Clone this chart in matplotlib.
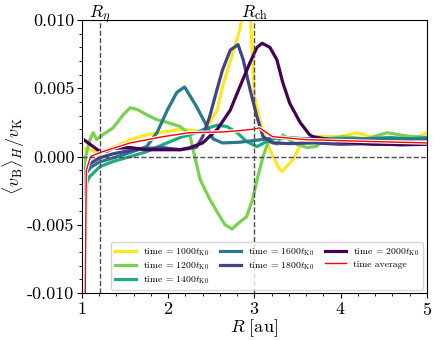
import numpy as np
import matplotlib
matplotlib.use("Agg")
import matplotlib.pyplot as plt
import matplotlib.patheffects as pe
from matplotlib.transforms import blended_transform_factory, offset_copy
from matplotlib.ticker import MultipleLocator, FormatStrFormatter

plt.rcParams['font.family'] = 'serif'
plt.rcParams['font.serif'] = ['cmr10']
plt.rcParams['mathtext.fontset'] = 'cm'
plt.rcParams['axes.formatter.use_mathtext'] = True

# values in units of 1e-3
R_1000 = [1.00, 1.03, 1.21, 1.36, 1.56, 1.75, 1.94, 2.14, 2.25, 2.40, 2.48, 2.57, 2.63, 2.75, 2.83, 2.87, 2.95, 3.00, 3.08, 3.18, 3.28, 3.32, 3.45, 3.56, 3.72, 3.99, 4.19, 4.37, 4.57, 4.84, 5.00]
v_1000 = [0.3, 0.6, 0.3, 0.66, 1.24, 1.6, 1.8, 2.0, 1.95, 1.82, 2.48, 3.43, 5.1, 7.6, 9.3, 10.8, 10.8, 4.4, 2.2, 0.5, -0.8, -1.1, -0.2, 1.2, 1.46, 1.46, 1.75, 1.4, 1.1, 1.25, 1.75]

R_1200 = [1.02, 1.05, 1.09, 1.13, 1.17, 1.24, 1.36, 1.48, 1.56, 1.64, 1.75, 1.87, 1.99, 2.14, 2.25, 2.30, 2.37, 2.48, 2.60, 2.66, 2.74, 2.83, 2.91, 2.98, 3.04, 3.10, 3.14, 3.18, 3.26, 3.33, 3.45, 3.61, 3.72, 3.80, 4.02, 4.30, 4.54, 4.77, 5.00]
v_1200 = [-1.0, 0.2, 1.2, 1.75, 1.24, 1.6, 2.1, 3.07, 3.58, 3.45, 3.07, 2.7, 2.5, 2.2, 1.6, 0.2, -1.68, -3.1, -4.4, -5.0, -5.3, -4.8, -4.4, -3.1, -1.46, 0.0, 0.73, 1.24, 0.9, 1.6, 1.0, 0.66, 0.75, 1.24, 1.46, 1.3, 1.75, 1.5, 1.4]

R_1400 = [1.01, 1.03, 1.06, 1.09, 1.21, 1.36, 1.56, 1.75, 1.94, 2.14, 2.33, 2.40, 2.57, 2.68, 2.80, 2.91, 3.03, 3.14, 3.26, 3.41, 3.70, 3.99, 4.30, 4.57, 4.80, 5.00]
v_1400 = [-5.0, -3.0, -1.8, -1.46, -0.73, -0.36, 0.0, 0.36, 0.88, 1.4, 1.75, 1.97, 2.3, 2.2, 1.75, 1.1, 0.73, 1.1, 1.4, 1.4, 1.2, 1.1, 1.3, 1.4, 1.3, 1.4]

R_1600 = [1.01, 1.05, 1.10, 1.20, 1.36, 1.56, 1.75, 1.87, 1.99, 2.10, 2.19, 2.33, 2.45, 2.52, 2.63, 2.83, 3.03, 3.21, 3.41, 3.70, 4.00, 4.50, 5.00]
v_1600 = [-3.0, -1.2, -0.8, -0.4, -0.1, 0.3, 0.73, 1.75, 3.4, 4.7, 5.1, 3.65, 2.2, 1.3, 1.0, 1.05, 1.2, 1.35, 1.35, 1.3, 1.3, 1.3, 1.3]

R_1800 = [1.01, 1.05, 1.10, 1.20, 1.36, 1.56, 1.75, 1.94, 2.14, 2.25, 2.33, 2.40, 2.48, 2.57, 2.63, 2.72, 2.81, 2.87, 2.95, 3.03, 3.10, 3.21, 3.40, 3.70, 4.00, 4.40, 4.70, 5.00]
v_1800 = [-2.5, -0.8, -0.5, -0.1, 0.2, 0.45, 0.6, 0.65, 0.5, 0.6, 0.7, 1.46, 2.9, 5.0, 6.35, 7.8, 8.2, 7.1, 4.9, 2.9, 1.46, 1.0, 0.95, 1.0, 0.9, 0.95, 0.85, 0.9]

R_2000 = [1.00, 1.02, 1.13, 1.21, 1.29, 1.36, 1.56, 1.75, 1.94, 2.14, 2.25, 2.40, 2.57, 2.72, 2.83, 2.95, 3.03, 3.09, 3.18, 3.26, 3.33, 3.41, 3.53, 3.64, 3.68, 3.99, 4.37, 4.70, 5.00]
v_2000 = [1.4, 1.24, 0.73, 0.36, 0.4, 0.6, 0.66, 0.5, 0.5, 0.5, 0.65, 1.0, 2.0, 3.4, 5.1, 6.9, 8.0, 8.3, 8.0, 7.1, 5.4, 3.9, 2.5, 1.6, 1.46, 1.1, 0.9, 0.9, 0.9]

R_avg = [1.00, 1.005, 1.035, 1.05, 1.10, 1.21, 1.56, 1.94, 2.25, 2.63, 2.83, 2.98, 3.06, 3.21, 3.60, 4.37, 5.00]
v_avg = [15.0, -15.0, -12.0, -1.0, 0.0, 0.3, 1.0, 1.46, 1.75, 1.8, 1.9, 2.0, 2.1, 1.46, 1.24, 1.1, 1.0]

series = [
    (R_1000, v_1000, '#fde725', 1000),
    (R_1200, v_1200, '#7ad151', 1200),
    (R_1400, v_1400, '#22a884', 1400),
    (R_1600, v_1600, '#2a788e', 1600),
    (R_1800, v_1800, '#414487', 1800),
    (R_2000, v_2000, '#440154', 2000),
]

R_eta = 1.21
R_ch = 3.0

fig = plt.figure(figsize=(4.36, 3.4), dpi=100)
ax = fig.add_axes([0.188, 0.138, 0.791, 0.803])

for R, v, c, t in series:
    ax.plot(R, np.array(v) * 1e-3, color=c, lw=2.3,
            label=r'time = $%dt_{\rm K0}$' % t)

ax.plot(R_avg, np.array(v_avg) * 1e-3, color='red', lw=1.0,
        path_effects=[pe.Stroke(linewidth=2.6, foreground='white'), pe.Normal()],
        label='time average')

ax.axvline(R_eta, color='0.3', ls='--', lw=1.0)
ax.axvline(R_ch, color='0.3', ls='--', lw=1.0)
ax.axhline(0, color='0.3', ls='--', lw=1.0)

trans = blended_transform_factory(ax.transData, ax.transAxes)
trans = offset_copy(trans, fig=fig, x=0, y=2.5, units='points')
ax.text(R_eta, 1.0, r'$R_\eta$', transform=trans, ha='center', va='baseline', fontsize=12.5)
ax.text(R_ch, 1.0, r'$R_{\rm ch}$', transform=trans, ha='center', va='baseline', fontsize=12.5)

ax.set_xlim(1, 5)
ax.set_ylim(-0.010, 0.010)
ax.xaxis.set_major_locator(MultipleLocator(1))
ax.xaxis.set_minor_locator(MultipleLocator(0.2))
ax.yaxis.set_major_locator(MultipleLocator(0.005))
ax.yaxis.set_minor_locator(MultipleLocator(0.001))
ax.yaxis.set_major_formatter(FormatStrFormatter('%.3f'))
ax.tick_params(labelsize=13, pad=2)

ax.set_xlabel(r'$R\ [\mathrm{au}]$', fontsize=13, labelpad=0)
ax.set_ylabel(r'$\langle v_{\rm B}\rangle_H/v_{\rm K}$', fontsize=13, labelpad=0)

leg = ax.legend(loc='lower right', ncol=3, fontsize=7, handlelength=2.2,
                columnspacing=1.1, labelspacing=0.25, borderaxespad=0.35,
                handletextpad=0.7)

fig.savefig('out.png', dpi=100)
